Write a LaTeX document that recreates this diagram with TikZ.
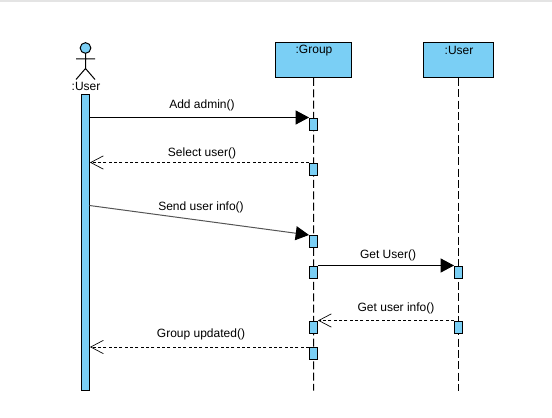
\documentclass[tikz,border=0pt]{standalone}
\usepackage{fontspec}
\setmainfont{Liberation Sans}
\usetikzlibrary{arrows.meta}
\definecolor{mybarcolor}{HTML}{7ACFF5}
\definecolor{mytopcolor}{HTML}{E4E4E4}
\definecolor{mygraycolor}{HTML}{555555}
\tikzset{
  x=0.75pt, y=-0.75pt,
  mybox/.style={draw, fill=mybarcolor, rectangle, line width=0.75pt, inner sep=0pt},
  myhead/.style={mybox, minimum height=25.9pt},
  myact/.style={mybox, minimum width=6pt, minimum height=9pt},
  mytext/.style={inner sep=0pt, font=\fontsize{9.0pt}{9.0pt}\selectfont},
  mylife/.style={line width=0.75pt, dash pattern=on 6pt off 2.5pt},
  mycall/.style={line width=0.75pt, -{Triangle[length=10pt, width=10.5pt, color=black, fill=black]}},
  myback/.style={line width=0.6pt, dash pattern=on 2.2pt off 1.8pt, -{Straight Barb[length=9.5pt, width=10pt, line width=0.5pt]}}
}
\begin{document}
\begin{tikzpicture}%
\useasboundingbox (0,-0.5) rectangle (552,416.5);%
\fill[mytopcolor] (0,-0.5) rectangle (552,2);%
% actor
\node[draw, fill=mybarcolor, circle, minimum size=8pt, inner sep=0pt, line width=0.75pt] (head) at (85.5,47.5) {};%
\coordinate (hip) at (85.5,68);%
\coordinate (armL) at (76,58.5);%
\coordinate (armR) at (95,58.5);%
\coordinate (legL) at (76,79);%
\coordinate (legR) at (95,79);%
\draw[line width=0.75pt] (head) -- (hip) (armL) -- (armR) (legL) -- (hip) -- (legR);%
\node[mytext] (actorlabel) at (86,85.5) {:User};%
\node[mybox, minimum width=6pt, minimum height=222pt] (userbar) at (85.5,242) {};%
% heads
\node[myhead, minimum width=57.4pt] (group) at (313.7,59.7) {};%
\node[mytext] (grouplabel) at (314,50) {:Group};%
\node[myhead, minimum width=53.2pt] (user) at (458.5,59.7) {};%
\node[mytext] (userlabel) at (459,49.5) {:User};%
% lifelines
\coordinate (groupend) at (313.5,390);%
\coordinate (userend) at (458.5,390);%
\draw[mylife] (group.south) -- (groupend);%
\draw[mylife] (user.south) -- (userend);%
% activations
\node[myact] (g1) at (313.5,123.5) {};%
\node[myact] (g2) at (313.5,168.5) {};%
\node[myact] (g3) at (313.5,241) {};%
\node[myact] (g4) at (313.5,271.5) {};%
\node[myact] (g5) at (313.5,326.5) {};%
\node[myact] (g6) at (313.5,353) {};%
\node[myact] (u1) at (458.5,271.5) {};%
\node[myact] (u2) at (458.5,326.5) {};%
% messages
\coordinate (sendstart) at (89.5,205);%
\draw[mycall] (userbar.east |- g1.north) -- (g1.north west);%
\draw[myback] (g2.north west) -- (userbar.east |- g2.north);%
\draw[mycall, color=mygraycolor] (sendstart) -- (g3.north west);%
\draw[mycall] (g4.north east) -- (u1.north west);%
\draw[myback] (u2.north west) -- (g5.north east);%
\draw[myback] (g6.north west) -- (userbar.east |- g6.north);%
% labels
\node[mytext] (addlabel) at (202,105) {Add admin()};%
\node[mytext] (selectlabel) at (202,153) {Select user()};%
\node[mytext] (sendlabel) at (201,206.5) {Send user info()};%
\node[mytext] (getlabel) at (388,255) {Get User()};%
\node[mytext] (infolabel) at (396,307.5) {Get user info()};%
\node[mytext] (updatedlabel) at (201,333.5) {Group updated()};%
\end{tikzpicture}
\end{document}
